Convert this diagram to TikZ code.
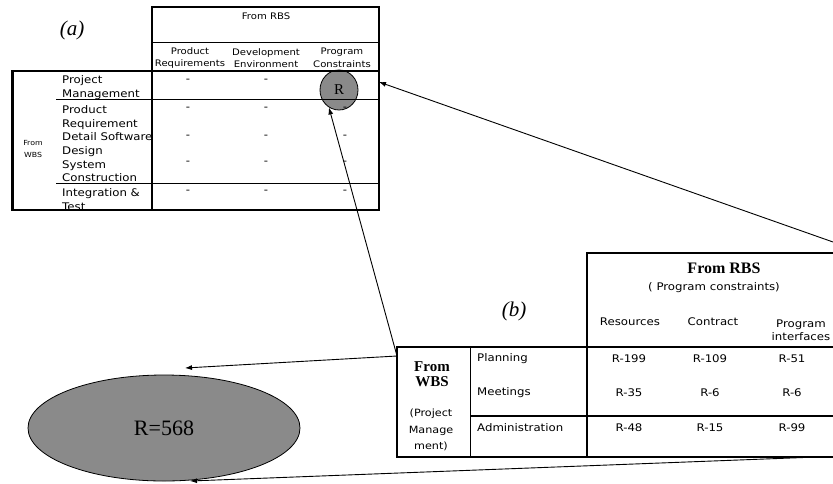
\documentclass[tikz,border=0pt]{standalone}
\usepackage{fontspec}
\setmainfont{Liberation Serif}
\newfontfamily\labfont[FakeStretch=1.12]{DejaVu Sans}
\usetikzlibrary{arrows.meta,shapes.geometric}
\begin{document}
\begin{tikzpicture}[x=1pt,y=-1pt,
  lab/.style={font=\labfont\fontsize{10.5}{13.5}\selectfont, inner sep=0pt},
  rowlab/.style={lab, align=left, anchor=west},
  hdr/.style={font=\labfont\fontsize{9}{12.5}\selectfont, inner sep=0pt, align=center},
  small/.style={font=\labfont\fontsize{7}{12}\selectfont, inner sep=0pt, align=center},
  cell/.style={lab},
  boldlab/.style={font=\bfseries\fontsize{16}{16}\selectfont, inner sep=0pt},
  tag/.style={font=\itshape\fontsize{21}{21}\selectfont, inner sep=0pt},
  blob/.style={fill=black!46, draw=black, line width=0.8pt, inner sep=0pt},
  arr/.style={line width=0.9pt, -{Latex[length=7pt,width=5pt]}},
  rulethick/.style={line width=2.4pt},
  rulethin/.style={line width=1pt},
]
\useasboundingbox (0,0) rectangle (833,483);
\clip (0,0) rectangle (833,483);
\fill[white] (0,0) rectangle (833,483);

% ---------------- table (a) ----------------
\node[blob, ellipse, minimum width=38, minimum height=40, font=\fontsize{15}{15}\selectfont] (circR) at (339,90) {R};

\draw[line width=1.5pt] (152,7) rectangle (379,210);
\draw[line width=1.5pt] (152,71) -- (12,71) -- (12,210) -- (152,210);
\draw[line width=3pt] (12,71) -- (12,210);
\draw[line width=1.3pt] (152,71) -- (379,71);
\draw[rulethin] (152,42) -- (379,42);
\draw[rulethin] (56,99) -- (379,99);
\draw[rulethin] (56,183) -- (379,183);

\node[tag] (taga) at (72,30) {(a)};
\node[hdr] (aRBS) at (266,16) {From RBS};
\node[hdr] (aC1) at (190,58) {Product\\Requirements};
\node[hdr] (aC2) at (266,58) {Development\\Environment};
\node[hdr] (aC3) at (342,58) {Program\\Constraints};
\node[small] (aWBS) at (33,149) {From\\WBS};

\node[rowlab] (aR1) at (62,87.5) {Project\\Management};
\node[rowlab] (aR2) at (62,117.5) {Product\\Requirement};
\node[rowlab] (aR3) at (62,144.5) {Detail Software\\Design};
\node[rowlab] (aR4) at (62,171) {System\\Construction};
\node[rowlab] (aR5) at (62,199.5) {Integration \&\\Test};

\node[cell] (d11) at (188,81) {-};
\node[cell] (d12) at (266,81) {-};
\node[cell] (d21) at (188,109) {-};
\node[cell] (d22) at (266,109) {-};
\node[cell] (d23) at (345,109) {-};
\node[cell] (d31) at (188,137) {-};
\node[cell] (d32) at (266,137) {-};
\node[cell] (d33) at (345,137) {-};
\node[cell] (d41) at (188,163) {-};
\node[cell] (d42) at (266,163) {-};
\node[cell] (d43) at (345,163) {-};
\node[cell] (d51) at (188,192) {-};
\node[cell] (d52) at (266,192) {-};
\node[cell] (d53) at (345,192) {-};

% ---------------- table (b) ----------------
\draw[rulethick] (587,457) -- (587,253) -- (845,253);
\draw[rulethick] (397,347) rectangle (845,457);
\draw[rulethin] (470,347) -- (470,457);
\draw[line width=1.2pt] (470,416) -- (845,416);

\node[tag] (tagb) at (514,311) {(b)};
\node[boldlab] (bRBS) at (724,268) {From RBS};
\node[lab] (bRBSsub) at (714,288) {( Program constraints)};
\node[lab] (bC1) at (630,322) {Resources};
\node[lab] (bC2) at (713,322) {Contract};
\node[lab, align=center] (bC3) at (801,330) {Program\\interfaces};

\node[font=\bfseries\fontsize{15}{15}\selectfont, inner sep=0pt, align=center] (bWBS) at (432,374) {From\\WBS};
\node[lab, align=center, font=\labfont\fontsize{10}{16.5}\selectfont] (bPM) at (431,430) {(Project\\Manage\\ment)};

\node[rowlab] (bR1) at (477,359) {Planning};
\node[rowlab] (bR2) at (477,393) {Meetings};
\node[rowlab] (bR3) at (477,428) {Administration};

\node[cell] (v11) at (629,359) {R-199};
\node[cell] (v12) at (710,359) {R-109};
\node[cell] (v13) at (792,359) {R-51};
\node[cell] (v21) at (629,393) {R-35};
\node[cell] (v22) at (710,393) {R-6};
\node[cell] (v23) at (792,393) {R-6};
\node[cell] (v31) at (629,428) {R-48};
\node[cell] (v32) at (710,428) {R-15};
\node[cell] (v33) at (792,428) {R-99};

% ---------------- total ellipse ----------------
\node[blob, ellipse, minimum width=272, minimum height=106, font=\fontsize{22}{22}\selectfont] (ell) at (164,428) {R=568};

% ---------------- connectors ----------------
\coordinate (aEdge) at (379,82);
\coordinate (bEdge) at (833,242);
\coordinate (bCorner) at (397,356);
\coordinate (bBottom) at (817,457);
\coordinate (ellTop) at (185,368);
\coordinate (ellBottom) at (190,481);

\draw[arr] (bEdge) -- (aEdge);
\draw[arr] (bCorner) -- (circR.240);
\draw[arr] (bCorner) -- (ellTop);
\draw[arr] (bBottom) -- (ellBottom);
\end{tikzpicture}
\end{document}
